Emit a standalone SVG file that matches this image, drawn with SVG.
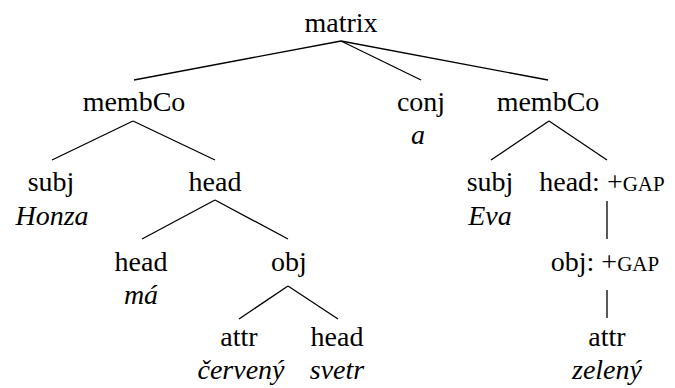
<svg xmlns="http://www.w3.org/2000/svg" width="675" height="388" viewBox="0 0 675 388">
<style>
text{font-size:28px;fill:#000;text-anchor:middle}
.w{font-style:italic}
.sc{font-size:21px}
line{stroke:#000;stroke-width:1.3}
</style>
<rect width="675" height="388" fill="#fff"/>
<g id="connectors">
<line x1="341" y1="41" x2="134" y2="80"/>
<line x1="341" y1="41" x2="421" y2="80"/>
<line x1="341" y1="41" x2="548" y2="80"/>
<line x1="133" y1="121" x2="52" y2="160"/>
<line x1="133" y1="121" x2="215" y2="160"/>
<line x1="549" y1="121" x2="491" y2="160"/>
<line x1="549" y1="121" x2="607" y2="160"/>
<line x1="215" y1="200" x2="142" y2="239"/>
<line x1="215" y1="200" x2="288" y2="239"/>
<line x1="607" y1="201" x2="607" y2="239"/>
<line x1="288" y1="286" x2="239" y2="319"/>
<line x1="288" y1="286" x2="338" y2="319"/>
<line x1="607" y1="290" x2="607" y2="318"/>
</g>
<g font-family="Liberation Serif, Times New Roman, DejaVu Serif, serif">
<g id="matrix"><text x="341" y="32">matrix</text></g>
<g id="membCo1"><text x="134" y="111">membCo</text></g>
<g id="conj"><text x="421" y="111">conj</text><text class="w" x="418" y="144">a</text></g>
<g id="membCo2"><text x="548" y="111">membCo</text></g>
<g id="subj1"><text x="51" y="191">subj</text><text class="w" x="52" y="225">Honza</text></g>
<g id="head1"><text x="215" y="191">head</text></g>
<g id="subj2"><text x="490" y="191">subj</text><text class="w" x="490" y="225">Eva</text></g>
<g id="head2"><text x="602" y="191">head: +<tspan class="sc">GAP</tspan></text></g>
<g id="head3"><text x="141" y="271">head</text><text class="w" x="141" y="304">má</text></g>
<g id="obj1"><text x="289" y="271">obj</text></g>
<g id="obj2"><text x="605" y="271">obj: +<tspan class="sc">GAP</tspan></text></g>
<g id="attr1"><text x="239" y="346">attr</text><text class="w" x="241" y="379">červený</text></g>
<g id="head4"><text x="337" y="346">head</text><text class="w" x="337" y="379">svetr</text></g>
<g id="attr2"><text x="607" y="346">attr</text><text class="w" x="607" y="379">zelený</text></g>
</g>
</svg>
